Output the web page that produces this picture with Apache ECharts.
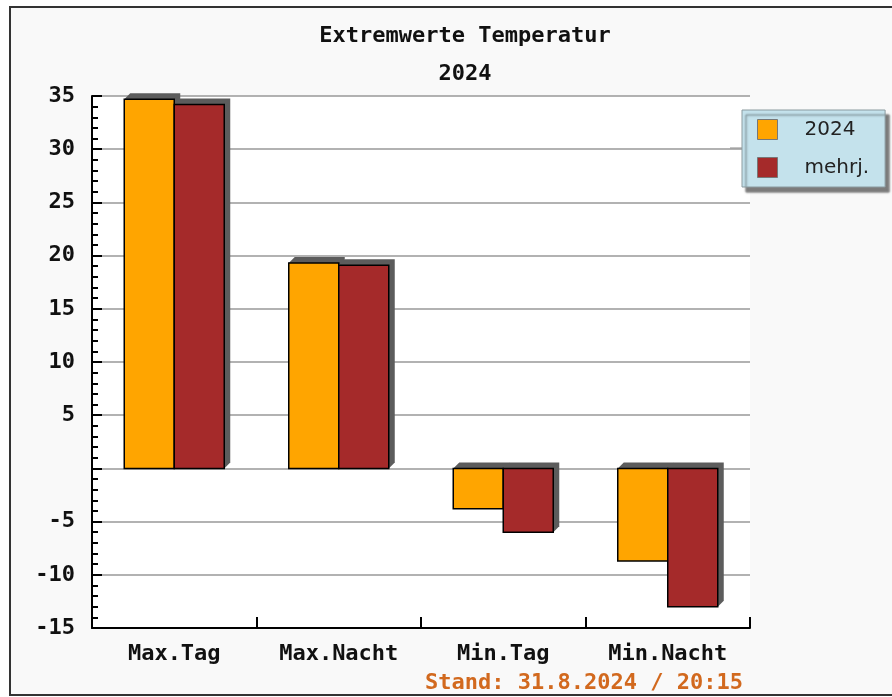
<!DOCTYPE html>
<html>
<head>
<meta charset="utf-8">
<script src="https://cdn.jsdelivr.net/npm/echarts@6/dist/echarts.min.js"></script>
<style>
  html, body { margin: 0; padding: 0; background: #ffffff; }
  #frame { position: absolute; left: 9px; top: 6px; width: 900px; height: 686px;
           border: 2px solid #333; border-right: none; background: #f9f9f9; }
  #chart { position: absolute; left: 0; top: 0; width: 892px; height: 697px; }
</style>
</head>
<body>
<div id="frame"></div>
<div id="chart"></div>
<script>
// Extreme temperatures: this year vs. long-term mean
const categories = ['Max.Tag', 'Max.Nacht', 'Min.Tag', 'Min.Nacht'];
const values2024 = [34.7, 19.3, -3.8, -8.7];
const valuesMehrj = [34.2, 19.1, -6.0, -13.0];
const seriesNames = ['2024', 'mehrj.'];
const seriesColors = ['#ffa500', '#a52a2a'];
const titleText = 'Extremwerte Temperatur';
const yearText = '2024';
const standText = 'Stand: 31.8.2024 / 20:15';

const monoFont = '"DejaVu Sans Mono", "Liberation Mono", monospace';
const BAR_W = 50;     // px per bar
const DEPTH = 6;      // px of the extruded side

const chart = echarts.init(document.getElementById('chart'), null, { renderer: 'canvas' });

// Bar with a dark extruded side (top + right) for a pseudo-3D look.
function makeRenderer(slot) {
  return function (params, api) {
    const idx = api.value(0);
    const val = api.value(1);
    const center = api.coord([idx, 0]);
    const end = api.coord([idx, val]);
    const x0 = center[0] + (slot === 0 ? -BAR_W : 0);
    const x1 = x0 + BAR_W;
    const top = Math.min(center[1], end[1]);
    const bottom = Math.max(center[1], end[1]);
    const d = DEPTH;
    return {
      type: 'group',
      children: [
        {
          type: 'polygon',
          shape: { points: [[x0, top], [x0 + d, top - d], [x1 + d, top - d], [x1 + d, bottom - d], [x1, bottom]] },
          style: { fill: '#5c5c5c' }
        },
        {
          type: 'rect',
          shape: { x: x0, y: top, width: BAR_W, height: bottom - top },
          style: { fill: api.visual('color'), stroke: '#000', lineWidth: 1.5 }
        }
      ]
    };
  };
}

chart.setOption({
  backgroundColor: 'transparent',
  animation: false,
  title: [
    { text: titleText, left: 460, top: 20, textAlign: 'center',
      textStyle: { fontFamily: monoFont, fontWeight: 'bold', fontSize: 22, color: '#111' } },
    { text: yearText, left: 460, top: 58, textAlign: 'center',
      textStyle: { fontFamily: monoFont, fontWeight: 'bold', fontSize: 22, color: '#111' } },
    { text: standText, right: 144, top: 667,
      textStyle: { fontFamily: monoFont, fontWeight: 'bold', fontSize: 22, color: '#d2691e' } }
  ],
  legend: {
    orient: 'vertical',
    left: 742, top: 110,
    padding: [9, 16, 9, 15],
    itemWidth: 20, itemHeight: 20, itemGap: 17,
    backgroundColor: '#c4e2ec',
    borderColor: '#8a9a9f',
    borderWidth: 1,
    shadowColor: 'rgba(0,0,0,0.5)',
    shadowBlur: 2,
    shadowOffsetX: 4,
    shadowOffsetY: 5,
    itemStyle: { borderColor: '#777', borderWidth: 1 },
    textStyle: { fontFamily: '"DejaVu Sans", sans-serif', fontSize: 20, color: '#222', padding: [0, 0, 0, 22] },
    data: seriesNames.map(n => ({ name: n, icon: 'rect' }))
  },
  graphic: [
    { type: 'line', shape: { x1: 730, y1: 148, x2: 742, y2: 148 },
      style: { stroke: '#888', lineWidth: 1 }, silent: true }
  ],
  grid: {
    left: 92, right: 142, top: 96, bottom: 69,
    show: true, backgroundColor: '#ffffff', borderWidth: 0
  },
  xAxis: {
    type: 'category',
    data: categories,
    axisLine: { onZero: false, lineStyle: { color: '#000', width: 2 } },
    axisTick: { show: true, inside: true, length: 11, lineStyle: { color: '#000', width: 2 } },
    axisLabel: { margin: 15, fontFamily: monoFont, fontWeight: 'bold', fontSize: 22, color: '#111' },
    splitLine: { show: false }
  },
  yAxis: {
    type: 'value',
    min: -15, max: 35, interval: 5,
    axisLine: { show: true, lineStyle: { color: '#000', width: 2 } },
    axisTick: { show: true, inside: true, length: 10, lineStyle: { color: '#000', width: 2 } },
    minorTick: { show: true, splitNumber: 5, length: 6, lineStyle: { color: '#000', width: 2 } },
    axisLabel: {
      margin: 17, fontFamily: monoFont, fontWeight: 'bold', fontSize: 22, color: '#111',
      formatter: v => (v === 0 ? '' : String(v))
    },
    splitLine: { show: true, lineStyle: { color: '#999', width: 1.5 } }
  },
  series: [
    { name: seriesNames[0], type: 'custom', renderItem: makeRenderer(0),
      itemStyle: { color: seriesColors[0] },
      encode: { x: 0, y: 1 },
      data: values2024.map((v, i) => [i, v]) },
    { name: seriesNames[1], type: 'custom', renderItem: makeRenderer(1),
      itemStyle: { color: seriesColors[1] },
      encode: { x: 0, y: 1 },
      data: valuesMehrj.map((v, i) => [i, v]) }
  ]
});
</script>
</body>
</html>
